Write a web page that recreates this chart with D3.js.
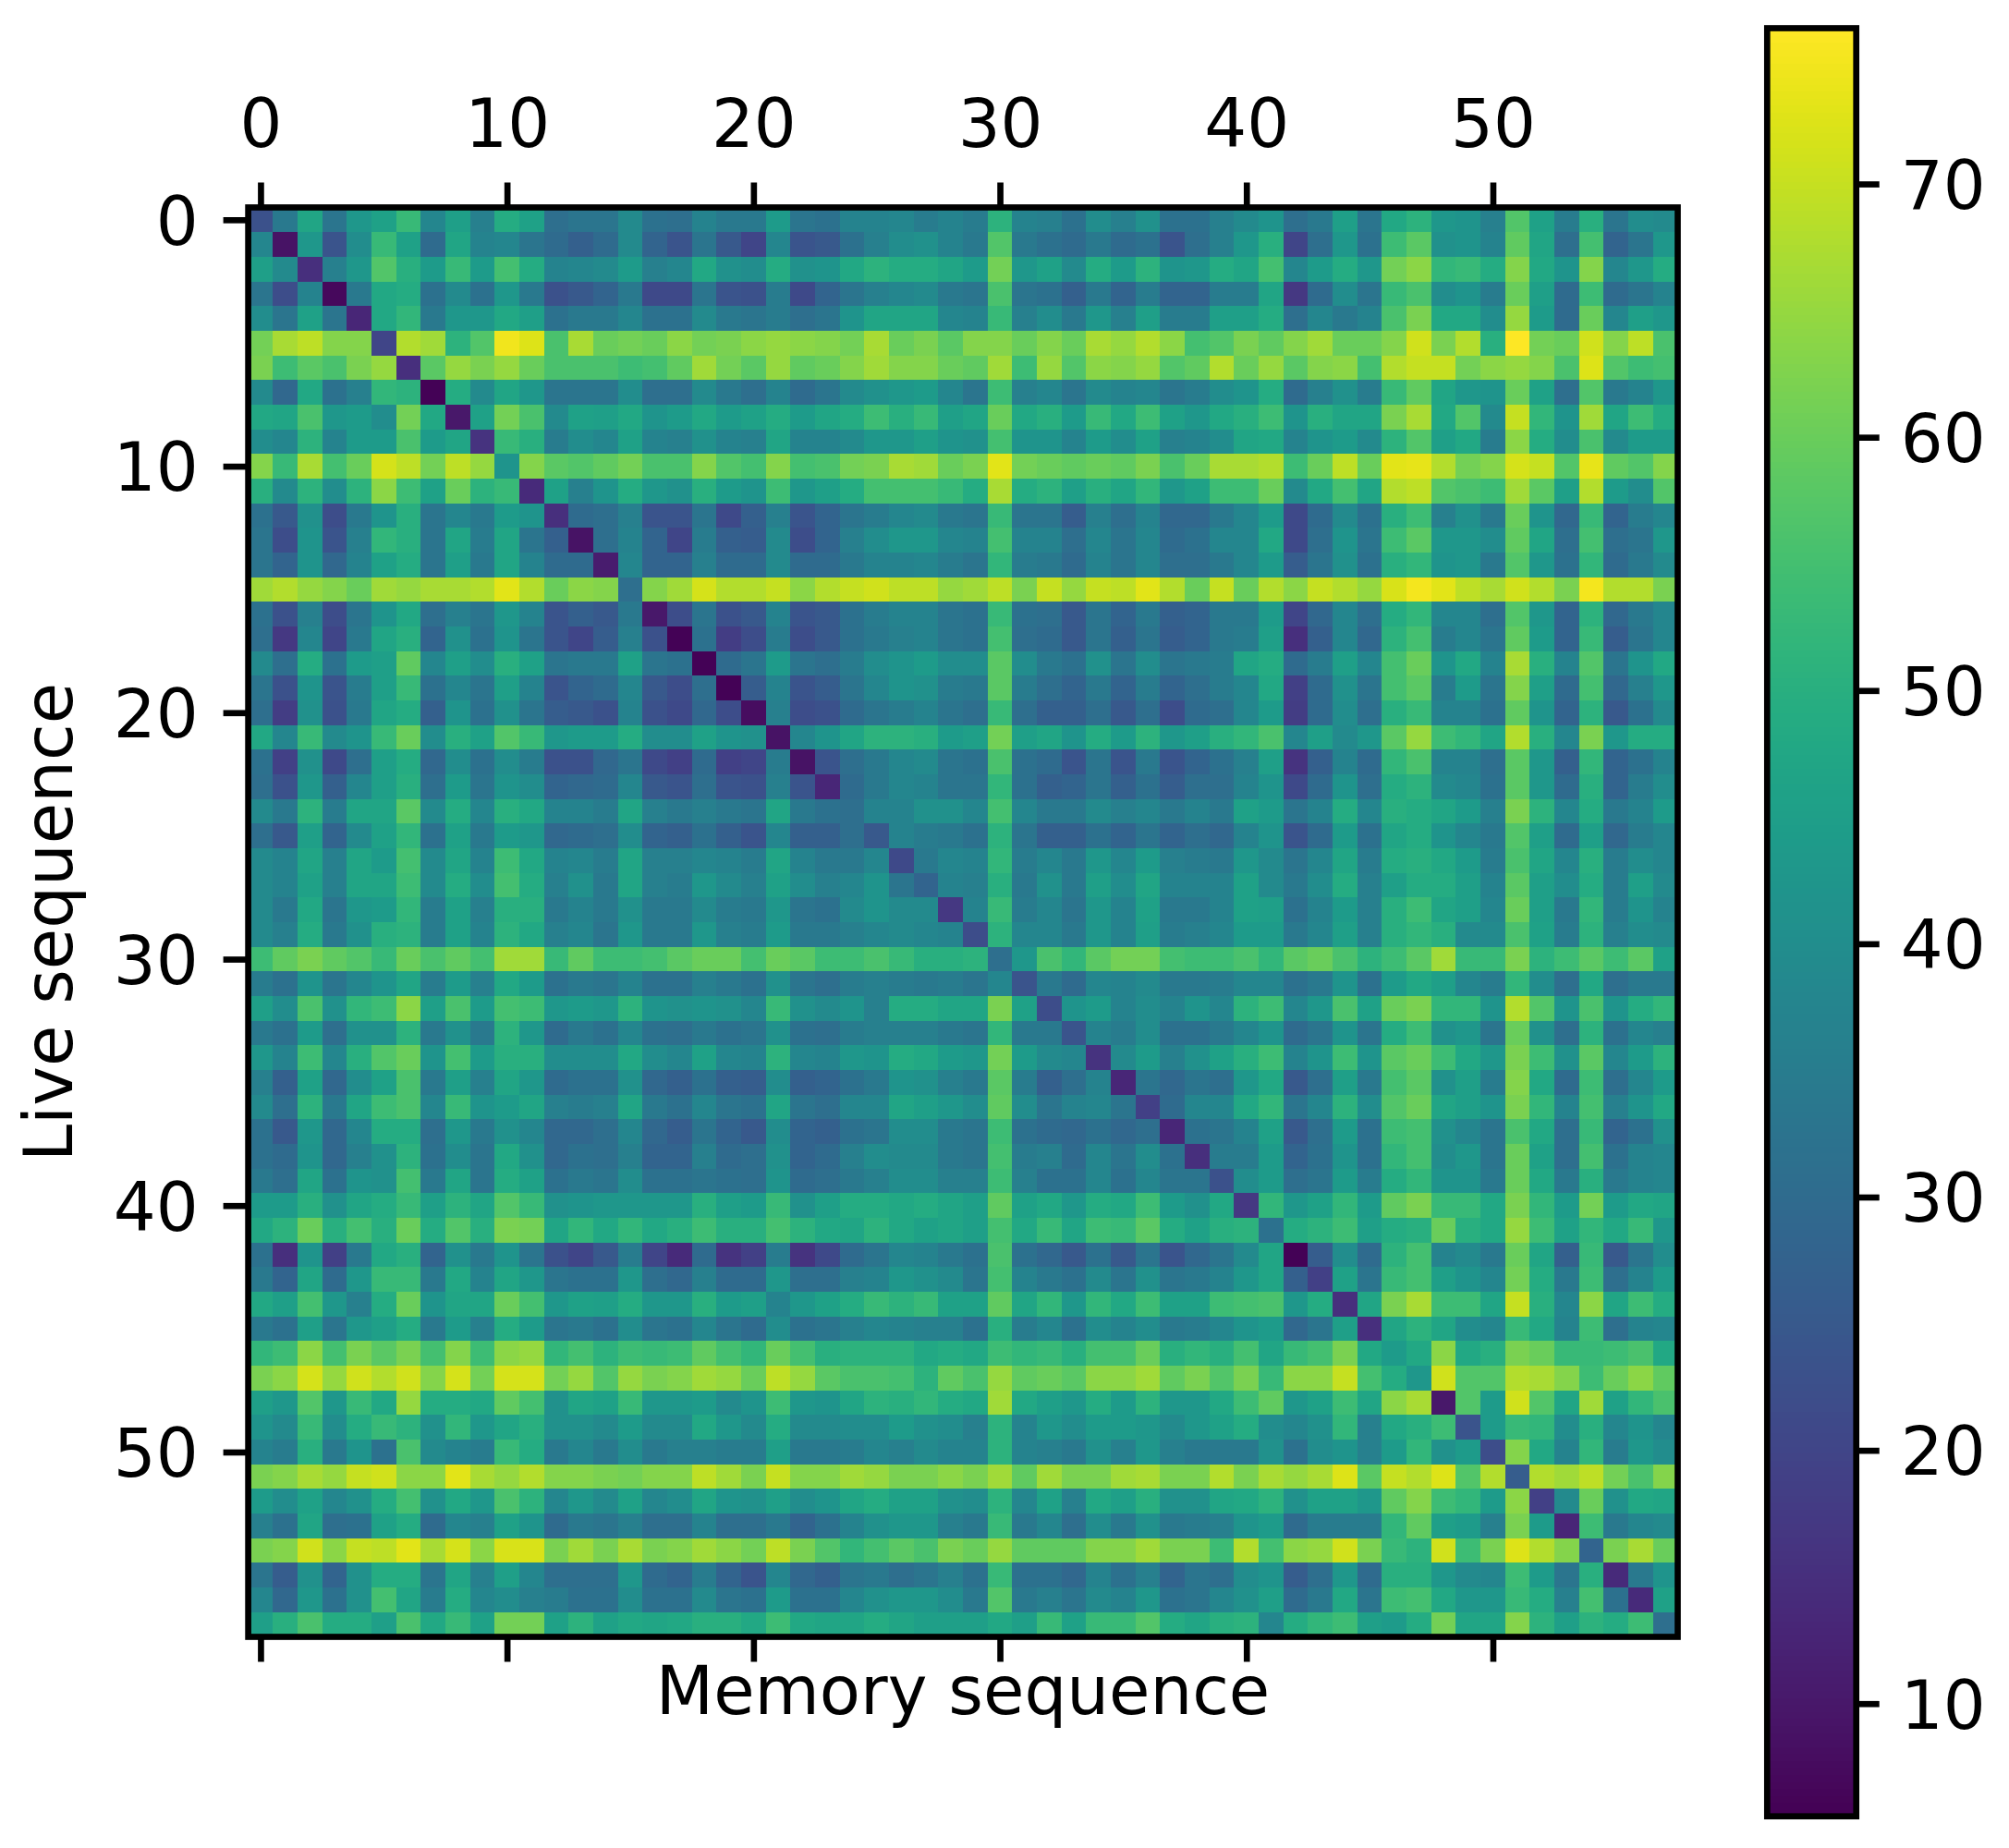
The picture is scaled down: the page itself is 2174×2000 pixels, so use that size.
<!DOCTYPE html>
<html>
<head>
<meta charset="utf-8">
<script src="https://d3js.org/d3.v7.min.js"></script>
<style>
html,body{margin:0;padding:0;background:#fff;}
svg{display:block;}
text{font-family:"DejaVu Sans";fill:#000;}
</style>
</head>
<body>
<script>
const xTickValues = [0,10,20,30,40,50];
const yTickValues = [0,10,20,30,40,50];
const colorbarTicks = [10,20,30,40,50,60,70];
const xAxisLabel = "Memory sequence";
const yAxisLabel = "Live sequence";
const colorDomain = [5.55,76.15];
const matrixRows = [
[23,34,47,33,43,46,53,38,45,36,49,46,31,33,33,39,32,31,37,34, 34,44,33,32,37,37,38,35,37,35,51,37,36,32,40,36,41,32,32, 36,39,42,31,34,45,33,48,51,43,42,36,57,46,35,50,33,40,39],
[38,9,43,24,40,53,46,30,47,37,38,33,30,27,30,39,28,24,33,25, 20,38,24,25,32,36,40,41,37,34,57,34,32,30,34,30,32,24,31, 36,43,50,20,31,43,32,54,58,41,42,37,59,47,31,55,28,33,43],
[45,39,15,36,43,57,50,44,53,44,55,49,37,38,39,44,36,38,48,41, 40,49,41,42,48,51,49,49,47,44,61,43,46,39,49,44,51,42,43, 49,47,55,38,44,49,43,61,64,52,53,49,63,48,42,63,38,43,49],
[33,22,37,7,34,48,49,32,39,32,43,34,23,25,28,34,21,21,33,24, 23,35,21,28,33,36,38,39,34,33,56,33,32,27,34,28,35,28,28, 35,35,47,17,30,40,33,53,56,40,42,35,60,45,30,54,30,33,37],
[40,33,46,33,13,48,52,34,43,43,48,45,32,34,34,38,32,32,39,34, 33,35,31,33,42,47,47,47,38,37,53,36,40,34,43,36,45,35,35, 45,45,49,31,38,34,37,56,62,48,48,40,65,44,30,60,38,45,43],
[61,67,69,63,63,20,68,66,51,57,74.5,72.5,56,67,60,61,60,64,61,62, 64,65,64,63,61,67,60,62,58,63,63,60,63,60,67,65,68,64,55, 57,62,59,63,66,60,60,63,71,62,68,50,76,61,60,71,63,69,56],
[62,54,58,56,62,65,15,58,65,62,65,60,56,56,56,54,55,59,66,61, 58,65,59,60,63,66,63,63,60,59,66,54,65,57,64,63,65,57,59, 68,60,65,58,63,64,55,68,70,70,61,64,65,63,56,72.5,57,54,55],
[39,29,48,32,36,52,51,6,49,39,47,43,33,33,33,40,31,31,39,34, 31,37,30,33,39,41,43,44,38,33,54,36,38,33,39,37,38,33,35, 40,42,49,30,36,41,35,53,59,47,43,42,60,46,31,57,34,37,43],
[48,47,56,43,44,40,61,48,10,46,61,56,39,46,45,48,42,44,48,44, 46,49,44,47,49,54,50,53,45,47,60,48,50,44,53,48,54,46,43, 48,50,54,42,50,47,47,62,67,48,57,39,70,52,42,66,47,54,49],
[40,38,51,37,44,44,56,44,47,16,53,50,35,40,38,46,37,36,41,37, 36,47,37,37,39,43,43,45,42,41,55,42,42,37,44,40,46,36,37, 40,47,48,37,42,44,39,51,57,45,48,35,64,49,40,56,39,44,44],
[63,53,67,55,60,71.5,69,61,69,65,42,63,58,57,59,61,56,56,63,57, 55,63,55,56,61,62,67,66,60,62,73,61,60,59,60,59,62,56,60, 67,67,68,54,60,69,60,73,73.5,68,61,63,71.5,70,57,73.5,59,57,63],
[50,39,51,40,51,64,54,46,60,51,53,14,46,36,42,49,43,41,50,44, 42,54,43,45,49,55,55,55,53,49,67,49,51,45,50,47,52,43,46, 54,54,60,39,48,55,47,68,69,57,56,54,66,58,45,68,44,40,57],
[32,25,41,22,34,42,50,33,38,34,44,42,15,30,31,36,24,24,33,21, 27,36,24,28,33,35,38,39,34,33,53,33,33,26,36,31,37,29,29, 34,38,44,21,30,39,32,50,54,36,41,34,60,42,29,53,28,35,38],
[33,22,42,24,36,52,50,33,47,35,47,33,27,9,31,37,28,20,35,27, 26,39,22,28,36,40,43,43,38,37,55,37,37,31,38,33,38,30,32, 38,38,48,21,31,42,33,54,58,43,43,40,59,47,31,55,31,33,43],
[33,28,42,29,37,46,49,33,45,34,47,37,30,30,11,38,28,28,36,30, 30,39,30,30,34,37,37,38,35,33,52,35,34,30,37,33,38,31,31, 34,38,44,26,33,41,32,50,52,42,43,34,57,43,32,52,30,34,39],
[66,68,65,63,60,66,65,67,67,68,73,68,60,64,63,31,63,66,71.5,68, 68,70,64,68,70,71,69,69,65,66,69,62,70,65,70,69,73,68,60, 70,60,68,64,70,68,65,72,75,73,69,67,71,68,62,75,68,68,62],
[32,23,36,22,33,42,48,31,36,33,43,37,24,27,25,34,10,22,33,23, 25,37,24,25,32,35,37,37,33,32,53,32,31,25,33,28,34,27,28, 34,34,44,20,29,38,31,49,52,38,38,31,57,43,28,51,29,34,38],
[31,17,38,20,34,47,50,28,41,32,42,33,24,20,26,36,23,6,32,18, 22,35,22,25,32,34,36,37,33,32,55,31,30,25,33,27,33,26,28, 34,35,45,15,27,38,29,51,55,35,38,33,59,44,28,53,26,33,38],
[39,31,49,32,44,45,59,38,45,40,50,46,33,34,34,46,33,32,6,30, 33,44,33,31,35,40,42,44,40,40,58,40,34,32,41,33,40,33,34, 35,47,49,30,35,45,38,55,60,42,48,37,67,50,37,57,33,42,48],
[33,23,42,24,35,45,53,32,38,33,45,37,24,28,30,38,25,22,31,6, 26,37,24,26,33,38,42,41,35,34,58,35,31,28,34,28,35,28,31, 35,38,48,19,30,41,33,55,58,35,44,33,63,45,30,55,29,36,43],
[31,18,41,23,34,47,49,27,42,32,41,33,26,25,23,37,23,21,29,22, 8,36,22,23,30,33,35,37,33,31,53,31,27,27,31,25,31,22,30, 31,38,44,18,30,40,31,50,53,37,37,32,59,42,28,51,25,32,39],
[48,38,53,39,42,53,60,40,50,46,57,53,43,44,44,49,40,40,46,42, 41,9,38,42,47,51,51,50,44,45,61,45,47,42,49,44,51,43,45, 50,52,56,38,45,39,43,58,65,54,52,47,68,50,38,62,43,49,49],
[32,19,41,21,31,45,49,29,40,32,40,35,23,23,29,33,21,19,30,19, 20,35,9,24,31,34,38,39,33,32,56,32,30,24,33,24,34,24,28, 32,36,45,16,27,37,30,52,56,37,37,31,58,43,27,52,28,32,37],
[31,23,43,27,38,45,50,31,44,33,42,40,28,29,30,38,25,24,31,24, 23,36,24,13,30,34,38,37,33,33,52,32,27,28,33,27,32,26,31, 31,37,42,21,30,42,31,49,51,39,38,32,58,43,30,50,28,35,40],
[39,34,51,35,47,47,58,39,49,38,50,48,37,37,35,47,36,34,36,34, 33,47,34,32,31,37,37,41,41,38,55,38,34,34,39,36,38,34,37, 34,46,44,33,37,49,38,50,49,47,44,36,62,51,38,49,34,37,44],
[31,25,45,28,39,46,52,32,46,34,44,43,29,30,31,40,28,27,32,27, 24,38,27,27,31,25,37,35,34,32,51,33,27,27,32,28,33,28,31, 29,37,42,24,30,44,32,47,49,42,38,34,57,45,30,45,29,35,38],
[39,37,47,36,47,44,55,39,47,37,54,48,37,38,35,47,36,36,38,37, 35,47,37,34,34,38,21,34,38,37,52,35,38,34,43,38,44,36,35, 34,43,39,33,38,47,35,49,50,48,44,35,56,47,38,50,35,40,38],
[39,37,46,36,47,47,54,39,49,40,55,49,36,41,34,47,36,35,43,39, 36,46,40,36,38,42,33,28,37,36,50,34,41,34,45,40,47,37,37, 37,46,39,34,40,49,36,45,49,49,45,37,58,45,40,49,35,45,39],
[39,34,48,33,43,44,52,35,46,36,50,50,34,37,34,41,34,34,39,35, 34,43,33,32,39,42,39,39,17,37,53,35,38,33,43,37,46,34,34, 37,46,45,32,37,44,36,50,54,47,45,38,60,45,34,52,35,42,37],
[39,36,49,34,41,50,51,35,46,37,51,48,36,38,33,43,34,34,43,36, 35,44,34,34,36,38,39,38,37,22,51,38,38,34,43,37,45,35,36, 38,44,44,34,38,45,36,50,52,50,39,39,56,46,35,51,36,40,39],
[54,59,62,59,57,53,60,56,59,55,66,66,53,59,54,54,55,58,60,60, 55,60,58,54,54,56,53,50,50,51,31,43,56,52,58,61,61,55,54, 54,56,52,58,60,56,51,54,58,66,53,53,62,51,54,58,54,58,46],
[35,32,42,33,38,42,47,35,44,36,48,44,32,34,33,37,32,32,36,34, 32,41,33,31,35,36,35,34,35,33,38,24,34,30,38,37,39,34,34, 35,38,38,32,34,42,32,44,48,45,38,35,52,40,31,48,31,34,34],
[45,40,56,41,52,54,64,45,56,44,55,54,43,44,43,51,42,41,42,41, 38,53,41,39,42,36,49,49,47,47,62,46,22,42,44,37,40,37,42, 38,51,54,38,43,56,46,60,62,52,52,42,68,57,42,56,42,49,52],
[34,32,44,31,41,41,51,34,41,34,51,43,30,34,32,38,32,31,34,32, 33,41,32,31,35,36,36,36,34,33,52,34,34,24,37,35,40,32,32, 34,38,42,30,33,42,33,49,54,41,43,33,60,41,31,51,32,38,36],
[43,37,54,38,50,57,60,42,55,44,50,50,40,40,40,48,40,38,46,38, 37,51,38,37,43,42,49,48,44,43,61,44,39,38,16,39,44,36,41, 46,50,54,37,42,54,42,58,60,54,48,43,62,54,41,58,38,44,51],
[36,27,46,29,40,46,56,34,45,36,47,43,30,32,32,41,29,27,32,27, 26,40,27,28,32,34,42,41,36,34,58,35,27,31,37,13,33,29,33, 31,43,48,25,31,45,34,55,58,41,45,35,63,48,30,54,31,38,44],
[39,31,51,34,47,54,56,38,53,42,44,47,36,35,36,47,34,32,38,33, 32,47,33,31,38,38,47,45,43,40,59,40,33,37,38,33,19,30,38, 38,48,52,33,38,51,40,57,60,47,45,42,62,52,37,55,36,42,48],
[32,25,43,29,38,49,49,31,43,34,41,38,29,29,31,38,29,26,33,28, 25,40,28,27,32,33,40,40,34,33,54,32,30,29,32,29,31,13,32, 33,37,46,25,31,44,32,54,55,41,38,33,56,48,31,53,28,32,41],
[32,30,42,29,36,41,51,32,40,33,48,41,29,32,31,36,28,28,36,30, 31,41,28,30,36,40,39,39,34,33,55,35,36,30,38,33,40,32,15, 35,35,44,28,32,42,32,52,55,40,43,33,60,46,31,55,32,37,38],
[34,31,47,32,42,41,55,34,47,33,49,46,32,34,33,40,32,32,33,32, 31,42,30,31,34,36,40,40,36,36,54,36,32,32,38,32,38,33,33, 23,40,44,31,33,44,35,49,52,42,42,34,60,48,34,50,34,37,38],
[44,44,50,41,47,49,53,45,51,47,57,53,41,42,43,43,43,43,50,45, 44,53,41,45,49,49,48,49,47,45,59,46,48,43,49,48,54,44,41, 48,17,52,43,46,52,44,59,62,53,53,48,62,52,44,61,44,48,47],
[48,51,60,50,55,50,60,49,57,50,62,61,47,52,48,52,48,50,54,50, 50,55,51,48,47,51,48,46,47,45,55,48,53,47,54,53,58,49,46, 50,51,32,49,51,54,45,49,50,60,50,48,65,54,46,52,48,53,43],
[32,15,42,19,34,48,50,28,41,34,42,33,23,20,25,35,20,14,30,16, 19,35,16,21,30,33,38,37,34,32,56,32,29,25,32,25,33,24,29, 33,39,47,6,26,40,30,51,55,37,39,34,60,47,27,53,25,33,40],
[34,28,47,30,43,53,53,34,48,37,47,43,33,32,32,43,31,29,36,30, 30,43,31,31,36,37,43,41,39,33,55,37,34,32,39,33,41,33,34, 37,43,47,27,19,46,33,53,55,45,42,38,61,49,34,54,31,37,44],
[48,45,55,43,36,49,60,42,47,47,60,55,43,46,45,49,43,43,50,44, 45,37,43,46,49,53,51,53,46,46,59,47,52,43,52,48,54,46,46, 54,55,56,43,49,15,47,62,67,54,54,47,70,50,38,64,47,54,49],
[34,32,45,33,43,45,49,34,44,36,49,44,33,34,32,40,33,32,38,33, 30,40,32,33,36,38,37,36,36,32,50,35,38,32,40,37,40,34,35, 38,42,44,29,33,45,15,47,51,47,40,38,53,48,37,54,31,37,38],
[52,54,64,55,62,58,62,55,63,54,64,65,52,55,51,54,53,54,59,55, 52,60,55,50,51,51,51,48,49,48,54,52,53,50,55,55,60,50,52, 50,55,47,53,55,62,48,44,48,64,48,50,62,60,53,53,54,56,48],
[62,64,71.5,65,71,68,71,63,71.5,61,71.5,71.5,61,65,57,65,62,63,66,65, 60,69,65,58,56,56,55,51,59,56,65,59,60,58,64,64,66,59,62, 57,62,53,64,64,70,55,49,43,71,57,57,68,67,63,54,60,64,59],
[45,43,57,43,53,48,65,49,49,48,59,55,41,47,46,53,43,43,44,39, 42,54,43,42,47,51,50,52,49,48,66,48,45,43,49,44,51,43,43, 48,54,59,43,46,54,47,64,67,10,57,44,71,57,47,66,46,52,56],
[42,39,53,40,49,53,51,41,52,43,47,50,41,41,39,44,39,39,48,43, 39,49,39,39,40,40,44,41,40,36,51,37,43,40,44,44,43,39,43, 46,49,40,38,41,52,36,48,50,54,24,44,53,52,40,50,38,42,38],
[37,35,50,34,42,32,56,39,37,35,53,49,34,38,34,40,34,36,36,35, 35,45,34,34,35,38,36,39,37,37,51,37,36,34,41,36,43,36,34, 34,34,41,32,40,42,36,44,52,41,44,22,63,48,37,52,35,43,40],
[62,63,67,65,70,71,64,64,73,67,65,68,63,63,62,61,63,63,69,66, 62,70,63,63,66,65,62,62,64,62,66,59,66,62,62,66,67,62,62, 68,62,67,65,67,72.5,58,70,68,72.5,57,68,26,68,66,69,61,56,63],
[44,40,46,38,41,49,55,41,48,43,56,51,38,43,39,46,38,40,47,42, 41,45,40,42,47,49,46,46,41,40,51,38,46,36,48,45,50,41,41, 47,48,51,41,46,46,43,59,63,54,52,44,64,19,39,60,41,48,47],
[36,32,47,31,32,46,49,30,38,36,46,42,30,34,33,36,31,31,37,31, 31,34,28,32,37,41,43,43,36,34,53,34,38,31,40,34,41,34,35, 36,42,44,30,35,35,35,52,59,45,44,36,62,44,13,54,34,38,39],
[62,63,71,64,70,69,73,67,71.5,64,72,72,62,66,62,67,62,63,66,64, 61,69,62,57,52,55,58,56,62,60,65,59,59,59,63,63,66,62,62, 54,68,55,64,65,71,62,53,51,71,54,62,72.5,68,63,28,62,67,60],
[33,26,41,28,41,49,49,33,47,36,45,38,31,31,31,43,30,28,35,28, 24,38,29,27,33,34,31,33,36,32,53,32,32,29,37,32,36,28,33, 31,40,42,26,31,43,30,50,50,43,39,38,54,44,33,50,14,34,42],
[38,29,43,32,41,55,47,35,49,38,40,36,35,32,32,40,32,32,39,33, 32,44,32,32,38,41,43,43,40,34,57,34,36,33,39,37,43,32,33, 38,41,45,30,34,48,33,54,55,48,43,43,53,49,36,55,32,14,46],
[45,50,56,49,49,45,56,48,53,46,61,61,46,51,46,48,47,48,50,50, 48,54,48,47,47,49,47,45,45,45,48,45,53,46,53,53,57,49,47, 50,51,38,49,52,54,45,44,49,61,47,47,63,51,45,51,49,54,31]
];

const width = 2174, height = 2000;
const plot = {left:268.6, right:1815.5, top:224.5, bottom:1771.5};
const bar = {left:1912.3, right:2008.7, top:30.5, bottom:1965.7};
const lineW = 6.67, fontPx = 72.2, tickLen = 27;

const n = matrixRows.length;
const color = d3.scaleSequential(d3.interpolateViridis).domain(colorDomain);
const x = d3.scaleLinear().domain([-0.5, n-0.5]).range([plot.left, plot.right]);
const y = d3.scaleLinear().domain([-0.5, n-0.5]).range([plot.top, plot.bottom]);
const cbY = d3.scaleLinear().domain(colorDomain).range([bar.bottom, bar.top]);

const svg = d3.select("body").append("svg").attr("width", width).attr("height", height)
  .style("background","#fff");

// heat-map cells
const cells = [];
matrixRows.forEach((row,i)=>row.forEach((v,j)=>cells.push({i,j,v})));
svg.append("g").attr("class","cells").attr("shape-rendering","crispEdges")
  .selectAll("rect").data(cells).join("rect")
  .attr("x",d=>x(d.j-0.5)).attr("y",d=>y(d.i-0.5))
  .attr("width",x(1)-x(0)+0.6).attr("height",y(1)-y(0)+0.6)
  .attr("fill",d=>color(d.v));

// frame
svg.append("rect").attr("x",plot.left).attr("y",plot.top)
  .attr("width",plot.right-plot.left).attr("height",plot.bottom-plot.top)
  .attr("fill","none").attr("stroke","#000").attr("stroke-width",lineW);

function styleAxis(g){
  g.select(".domain").remove();
  g.selectAll("line").attr("stroke","#000").attr("stroke-width",lineW);
  g.selectAll("text").attr("font-family","DejaVu Sans").attr("font-size",fontPx).attr("fill","#000");
}
// top axis
svg.append("g").attr("transform",`translate(0,${plot.top})`)
  .call(d3.axisTop(x).tickValues(xTickValues).tickSize(tickLen).tickPadding(38.5).tickFormat(d3.format("d")))
  .call(styleAxis);
// bottom ticks without labels
svg.append("g").attr("transform",`translate(0,${plot.bottom})`)
  .call(d3.axisBottom(x).tickValues(xTickValues).tickSize(tickLen).tickFormat(""))
  .call(styleAxis);
// left axis
svg.append("g").attr("transform",`translate(${plot.left},0)`)
  .call(d3.axisLeft(y).tickValues(yTickValues).tickSize(tickLen).tickPadding(27).tickFormat(d3.format("d")))
  .call(styleAxis)
  .call(g=>g.selectAll("text").attr("dy","0.365em"));

// axis titles
svg.append("text").attr("x",(plot.left+plot.right)/2).attr("y",1855)
  .attr("text-anchor","middle").attr("font-size",fontPx).text(xAxisLabel);
svg.append("text").attr("transform",`translate(78,${(plot.top+plot.bottom)/2}) rotate(-90)`)
  .attr("text-anchor","middle").attr("font-size",fontPx).text(yAxisLabel);

// colour bar
const stops = d3.range(256).map(k=>colorDomain[0]+(k/255)*(colorDomain[1]-colorDomain[0]));
const stepH = (bar.bottom-bar.top)/256;
svg.append("g").attr("shape-rendering","crispEdges")
  .selectAll("rect").data(stops).join("rect")
  .attr("x",bar.left).attr("width",bar.right-bar.left)
  .attr("y",(d,k)=>bar.bottom-(k+1)*stepH).attr("height",stepH+0.6)
  .attr("fill",d=>color(d));
svg.append("rect").attr("x",bar.left).attr("y",bar.top)
  .attr("width",bar.right-bar.left).attr("height",bar.bottom-bar.top)
  .attr("fill","none").attr("stroke","#000").attr("stroke-width",lineW);
svg.append("g").attr("transform",`translate(${bar.right},0)`)
  .call(d3.axisRight(cbY).tickValues(colorbarTicks).tickSize(tickLen-2).tickPadding(23).tickFormat(d3.format("d")))
  .call(styleAxis)
  .call(g=>g.selectAll("text").attr("dy","0.365em"));
</script>
</body>
</html>
